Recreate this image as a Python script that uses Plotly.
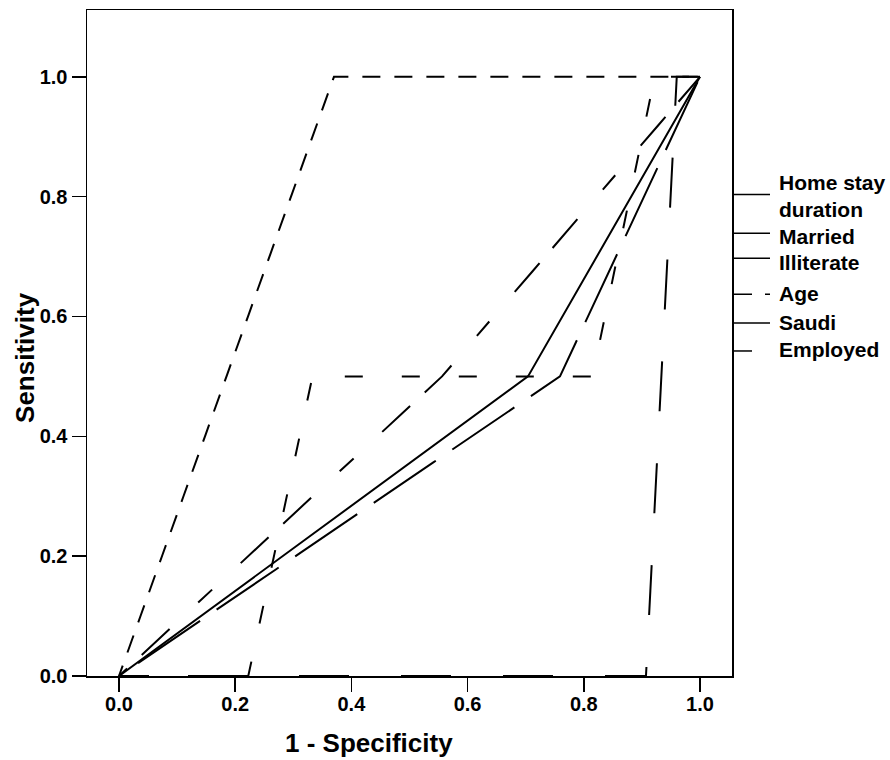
import plotly.graph_objects as go

# ---- data ----
series_names = ["Home stay duration", "Married", "Illiterate", "Age", "Saudi", "Employed"]

home_fpr = [0.0, 0.556, 1.0]
home_tpr = [0.0, 0.5, 1.0]

married_fpr = [0.0, 0.704, 1.0]
married_tpr = [0.0, 0.5, 1.0]

illiterate_fpr = [0.0, 0.759, 1.0]
illiterate_tpr = [0.0, 0.5, 1.0]

age_fpr = [0.0, 0.370, 1.0]
age_tpr = [0.0, 1.0, 1.0]

saudi_fpr = [0.0, 0.907, 0.960, 1.0]
saudi_tpr = [0.0, 0.0, 1.0, 1.0]

employed_fpr = [0.0, 0.2225, 0.333, 0.815, 0.922, 1.0]
employed_tpr = [0.0, 0.0, 0.5, 0.5, 1.0, 1.0]

tick_vals = [0.0, 0.2, 0.4, 0.6, 0.8, 1.0]
tick_text = ["0.0", "0.2", "0.4", "0.6", "0.8", "1.0"]

# ---- styles ----
dashes = {
    "Home stay duration": "11px,20px,38px,39px,19px,39px,27px,0px",
    "Married": "solid",
    "Illiterate": "3px,20px,75px,20px,72px,0px",
    "Age": "11px,14px,18px,14px,7px,0px",
    "Saudi": "26px,52px,50px,52px,24px,0px",
    "Employed": "0px,12px,18px,27px",
}
legend_dashes = {
    "Home stay duration": "solid",
    "Married": "solid",
    "Illiterate": "solid",
    "Age": "20px,13px",
    "Saudi": "solid",
    "Employed": "20px,40px",
}

data = {
    "Home stay duration": (home_fpr, home_tpr),
    "Married": (married_fpr, married_tpr),
    "Illiterate": (illiterate_fpr, illiterate_tpr),
    "Age": (age_fpr, age_tpr),
    "Saudi": (saudi_fpr, saudi_tpr),
    "Employed": (employed_fpr, employed_tpr),
}

FONT = "Arial, Liberation Sans, sans-serif"

fig = go.Figure()
for name in series_names:
    x, y = data[name]
    fig.add_trace(go.Scatter(
        x=x, y=y, mode="lines", name=name, showlegend=False,
        line=dict(color="black", width=2, dash=dashes[name], simplify=False),
        hoverinfo="skip",
    ))

# plot area geometry in pixels
L, R, T, B = 87, 732, 8, 676
W, H = 890, 760


def px(X):
    return (X - L) / (R - L)


def py(Y):
    return (B - Y) / (B - T)


shapes = []
annotations = []
legend_line_y = [193, 232, 257, 293, 322, 350]
legend_text_y = [195, 235, 261, 292, 321, 349]
for name, ly, ty in zip(series_names, legend_line_y, legend_text_y):
    shapes.append(dict(
        type="line", xref="paper", yref="paper",
        x0=px(732), x1=px(770), y0=py(ly), y1=py(ly),
        line=dict(color="black", width=1.5, dash=legend_dashes[name]),
    ))
    label = "Home stay<br>duration" if name == "Home stay duration" else name
    annotations.append(dict(
        text=label, xref="paper", yref="paper", x=px(777), y=py(ty),
        xanchor="left", yanchor="middle", align="left", showarrow=False,
        font=dict(family=FONT, size=21, color="black", weight="bold"),
    ))

annotations.append(dict(
    text="1 - Specificity", xref="paper", yref="paper", x=px(369), y=py(743),
    xanchor="center", yanchor="middle", showarrow=False,
    font=dict(family=FONT, size=26, color="black", weight="bold"),
))
annotations.append(dict(
    text="Sensitivity", xref="paper", yref="paper", x=px(25), y=py(357),
    xanchor="center", yanchor="middle", showarrow=False, textangle=-90,
    font=dict(family=FONT, size=26, color="black", weight="bold"),
))

x_lo = (L - 119) / 581
x_hi = (R - 119) / 581
y_hi = (B - T) / 601

fig.update_layout(
    width=W, height=H,
    margin=dict(l=L, r=W - R, t=T, b=H - B, pad=0),
    paper_bgcolor="white", plot_bgcolor="white",
    showlegend=False,
    shapes=shapes, annotations=annotations,
    xaxis=dict(
        range=[x_lo, x_hi], tickvals=tick_vals, ticktext=tick_text,
        showgrid=False, zeroline=False, showline=True, mirror=True,
        linecolor="black", linewidth=1.5, ticks="outside", ticklen=14,
        tickwidth=1.5, tickcolor="black", ticklabelstandoff=-5,
        tickfont=dict(family=FONT, size=20, color="black", weight="bold"),
    ),
    yaxis=dict(
        range=[0, y_hi], tickvals=tick_vals, ticktext=tick_text,
        showgrid=False, zeroline=False, showline=True, mirror=True,
        linecolor="black", linewidth=1.5, ticks="outside", ticklen=14,
        tickwidth=1.5, tickcolor="black",
        tickfont=dict(family=FONT, size=20, color="black", weight="bold"),
    ),
)

fig.write_html(
    "out.html",
    config={"displayModeBar": False, "staticPlot": True},
    post_script="document.body.style.margin='0';",
)
